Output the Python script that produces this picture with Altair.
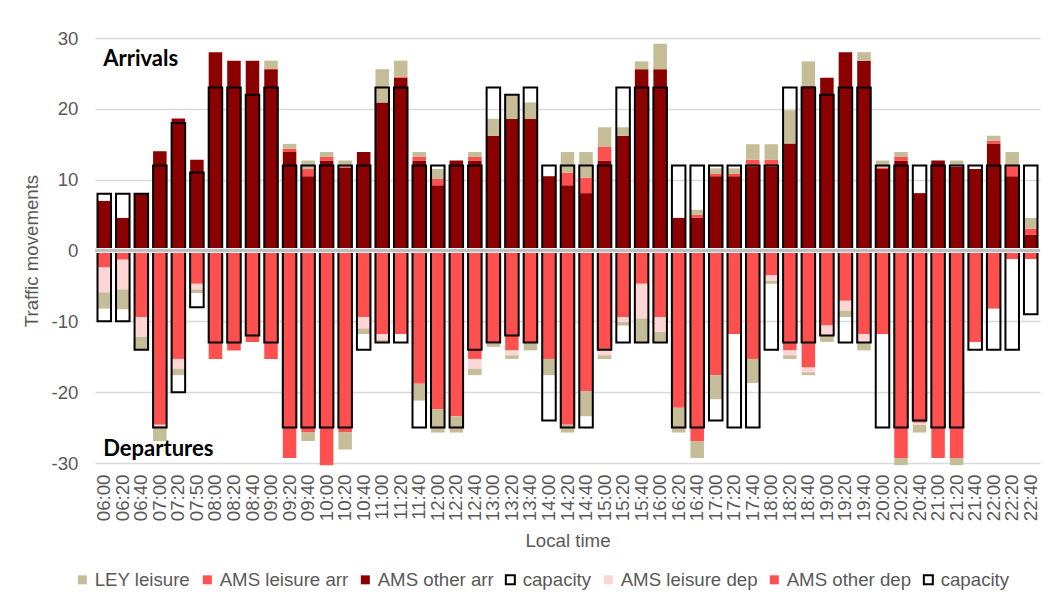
import altair as alt
import pandas as pd

times = ["06:00", "06:20", "06:40", "07:00", "07:20", "07:50", "08:00", "08:20", "08:40", "09:00",
         "09:20", "09:40", "10:00", "10:20", "10:40", "11:00", "11:20", "11:40", "12:00", "12:20",
         "12:40", "13:00", "13:20", "13:40", "14:00", "14:20", "14:40", "15:00", "15:20", "15:40",
         "16:00", "16:20", "16:40", "17:00", "17:20", "17:40", "18:00", "18:20", "18:40", "19:00",
         "19:20", "19:40", "20:00", "20:20", "20:40", "21:00", "21:20", "21:40", "22:00", "22:20",
         "22:40"]

# arrivals (positive)
ams_other_arr = [7, 4.6, 8, 14, 18.6, 12.8, 28, 26.8, 26.8, 25.6,
                 13.9, 10.5, 12.7, 11.7, 13.9, 20.9, 24.4, 12.7, 9.2, 12.7,
                 12.7, 16.2, 18.6, 18.6, 10.5, 9.2, 8.1, 12.7, 16.2, 25.6,
                 25.6, 4.6, 4.6, 10.5, 10.5, 11.8, 11.8, 15.1, 23.2, 24.4,
                 28, 26.8, 11.5, 12.7, 8.1, 12.7, 11.8, 11.5, 15.1, 10.5,
                 2.2]
ams_leisure_arr = [0, 0, 0.1, 0, 0.1, 0, 0, 0, 0, 0.1,
                   0.45, 1.0, 0.5, 0.1, 0, 0, 0.1, 0.5, 0.9, 0,
                   0.5, 0, 0, 0, 0, 1.8, 2.2, 1.9, 0, 0,
                   0, 0, 0.45, 0.3, 0.3, 1.0, 1.0, 0, 0.1, 0,
                   0, 0, 0.2, 0.5, 0, 0, 0, 0, 0.4, 1.4,
                   0.9]
ley_leisure_arr = [0, 0, 0, 0, 0, 0, 0, 0, 0, 1.1,
                   0.7, 1.2, 0.7, 0.9, 0, 4.7, 2.3, 0.7, 1.4, 0,
                   0.7, 2.4, 3.3, 2.3, 0, 2.9, 3.6, 2.8, 1.2, 1.1,
                   3.6, 0, 0.7, 0.8, 0.8, 2.2, 2.2, 4.7, 3.4, 0,
                   0, 1.2, 1.0, 0.7, 0, 0, 0.9, 0, 0.7, 2.0,
                   1.5]
capacity_arr = [8, 8, 8, 12, 18, 11, 23, 23, 22, 23,
                12, 12, 12, 12, 12, 23, 23, 12, 12, 12,
                12, 23, 22, 23, 12, 12, 12, 12, 23, 23,
                23, 12, 12, 12, 12, 12, 12, 23, 23, 22,
                23, 23, 12, 12, 12, 12, 12, 12, 12, 12,
                12]

# departures (magnitudes, drawn downward)
ams_other_dep = [2.4, 1.3, 9.4, 24.6, 15.3, 4.7, 15.3, 14.1, 12.9, 15.3,
                 29.3, 25.7, 30.3, 25.7, 9.4, 11.8, 11.8, 18.8, 22.4, 23.4,
                 15.3, 13.1, 14.1, 13.1, 15.3, 24.6, 19.9, 14.1, 9.4, 4.7,
                 9.4, 22.2, 26.9, 17.6, 11.8, 15.3, 3.5, 14.1, 16.5, 10.6,
                 7.1, 11.8, 11.8, 29.3, 24.3, 29.3, 29.3, 12.9, 8.2, 1.2,
                 1.2]
ams_leisure_dep = [3.5, 4.2, 2.8, 0.2, 1.4, 0.8, 0, 0, 0, 0,
                   0, 0, 0, 0, 1.6, 0.8, 0, 0, 0, 0,
                   1.4, 0.1, 0.7, 0, 0, 0, 0, 0.7, 0.7, 4.9,
                   2.1, 0, 0, 0, 0, 0, 0.8, 0.7, 0.7, 1.4,
                   1.4, 1.1, 0, 0, 0.3, 0, 0, 0, 0, 0,
                   0]
ley_leisure_dep = [2.3, 2.8, 1.8, 2.1, 0.9, 0.5, 0, 0, 0, 0,
                   0, 1.2, 0, 2.4, 0.8, 0.3, 0, 2.4, 3.3, 2.3,
                   0.9, 0.4, 0.5, 1.0, 2.3, 1.1, 3.5, 0.5, 0.5, 3.3,
                   1.4, 3.5, 2.4, 3.4, 0, 3.4, 0.4, 0.5, 0.4, 0.9,
                   0.9, 1.2, 0, 1.0, 1.1, 0, 1.0, 0, 0, 0,
                   0]
capacity_dep = [10, 10, 14, 25, 20, 8, 13, 13, 12, 13,
                25, 25, 25, 25, 14, 13, 13, 25, 25, 25,
                14, 13, 12, 13, 24, 25, 25, 14, 13, 13,
                13, 25, 25, 24, 25, 25, 14, 13, 13, 12,
                13, 13, 25, 25, 24, 25, 25, 14, 14, 14,
                9]

legend_names = ["LEY leisure", "AMS leisure arr", "AMS other arr", "capacity",
                "AMS leisure dep", "AMS other dep", "capacity "]
legend_fill = ["#C4BD97", "#FF5050", "#8B0000", "#FFFFFF", "#FFD5D5", "#FF5050", "#FFFFFF"]
legend_stroke = ["transparent", "transparent", "transparent", "#000000",
                 "transparent", "transparent", "#000000"]

annotations = ["Arrivals", "Departures"]
annotation_y = [27.0, -28.0]

# ---- build tables ----
stack_defs = [
    ("AMS other arr", 0, 1, ams_other_arr),
    ("AMS leisure arr", 1, 1, ams_leisure_arr),
    ("LEY leisure", 2, 1, ley_leisure_arr),
    ("AMS other dep", 0, -1, ams_other_dep),
    ("AMS leisure dep", 1, -1, ams_leisure_dep),
    ("LEY leisure", 2, -1, ley_leisure_dep),
]
rows = []
for name, order, sign, arr in stack_defs:
    for t, v in zip(times, arr):
        rows.append({"time": t, "series": name, "ord": order, "value": sign * v})
stack_df = pd.DataFrame(rows)

cap_rows = []
for t, a, d in zip(times, capacity_arr, capacity_dep):
    cap_rows.append({"time": t, "value": a})
    cap_rows.append({"time": t, "value": -d})
cap_df = pd.DataFrame(cap_rows)

ann_df = pd.DataFrame({"label": annotations, "y": annotation_y, "time": [times[0]] * 2})

FONT = "Liberation Sans"
GREY = "#595959"
FS = 18.67

x_enc = alt.X(
    "time:N",
    sort=times,
    scale=alt.Scale(domain=times, paddingInner=0.27, paddingOuter=0.135),
    axis=alt.Axis(title="Local time", labelAngle=270, labelPadding=11, labelOverlap=False,
                  titlePadding=11, grid=False),
)
y_scale = alt.Scale(domain=[-30, 30], nice=False)

legend_kw = dict(title=None, orient="none", legendX=-22, legendY=532,
                 direction="horizontal", symbolType="square",
                 symbolSize=81, symbolStrokeWidth=2,
                 labelFontSize=FS, labelColor=GREY, labelFont=FONT,
                 columnPadding=7, labelOffset=3)

bars = alt.Chart(stack_df).mark_bar(strokeWidth=0).encode(
    x=x_enc,
    y=alt.Y("value:Q", stack="zero", scale=y_scale,
            axis=alt.Axis(title="Traffic movements", values=list(range(-30, 31, 5)),
                          labelExpr="toString(datum.value)",
                          grid=True, labelPadding=17, titlePadding=10)),
    fill=alt.Fill("series:N", scale=alt.Scale(domain=legend_names, range=legend_fill),
                  legend=alt.Legend(**legend_kw)),
    stroke=alt.Stroke("series:N", scale=alt.Scale(domain=legend_names, range=legend_stroke),
                      legend=alt.Legend(**legend_kw)),
    order=alt.Order("ord:Q", sort="ascending"),
)

caps = alt.Chart(cap_df).mark_bar(fill="white", fillOpacity=0, stroke="black", strokeWidth=2).encode(
    x=alt.X("time:N", sort=times),
    y=alt.Y("value:Q", stack=None),
)

zero_halo = alt.Chart(stack_df).mark_rule(color="#F2F2F2", strokeWidth=4).encode(
    y=alt.datum(0)
)
zero_rule = alt.Chart(stack_df).mark_rule(color="#BFBFBF", strokeWidth=2).encode(
    y=alt.datum(0)
)

texts = alt.Chart(ann_df).mark_text(align="left", baseline="middle", fontWeight="bold",
                                    fontSize=22, font="Lato", color="black", dx=-1).encode(
    x=alt.X("time:N", sort=times),
    y=alt.Y("y:Q"),
    text="label:N",
)

chart = alt.layer(bars, caps, zero_halo, zero_rule, texts).properties(
    width=945,
    height=425,
    autosize=alt.AutoSizeParams(type="none"),
    padding={"left": 87, "top": 30, "right": 11, "bottom": 135},
).configure_view(stroke=None).configure_axis(
    domain=False, ticks=False,
    labelFont=FONT, labelFontSize=FS, labelColor=GREY,
    titleFont=FONT, titleFontSize=FS, titleColor=GREY, titleFontWeight="normal",
    gridColor="#D9D9D9", gridWidth=1.5,
)

chart.save("out.html", embed_options={"renderer": "svg", "actions": False})
